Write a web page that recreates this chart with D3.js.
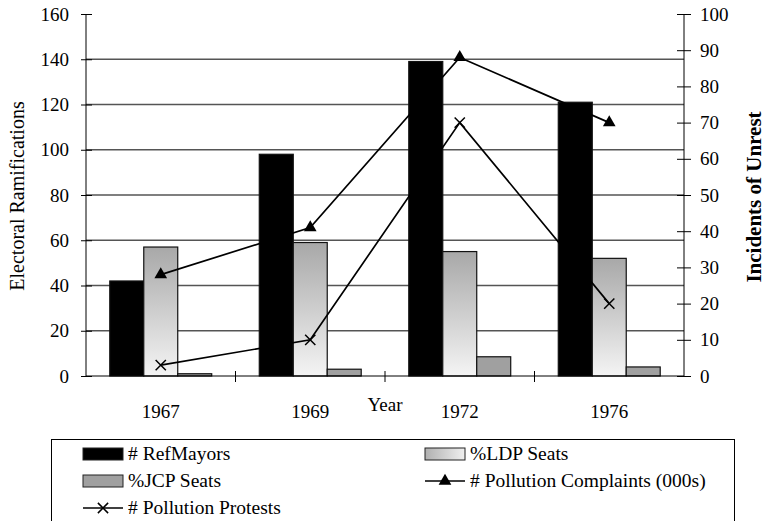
<!DOCTYPE html>
<html>
<head>
<meta charset="utf-8">
<script src="https://cdn.jsdelivr.net/npm/d3@7"></script>
<style>
  body { margin: 0; background: #fff; }
  text { font-family: "Liberation Serif", "Times New Roman", serif; fill: #000; }
</style>
</head>
<body>
<svg id="chart" width="766" height="521"></svg>
<script>
// chart data
let years = ["1967", "1969", "1972", "1976"];
let refMayors = [42, 98, 139, 121];
let ldpSeats = [57, 59, 55, 52];
let jcpSeats = [1, 3, 8.5, 4];
let complaints = [28, 41, 88, 70];
let protests = [3, 10, 70, 20];
let leftTicks = [0, 20, 40, 60, 80, 100, 120, 140, 160];
let rightTicks = [0, 10, 20, 30, 40, 50, 60, 70, 80, 90, 100];

let svg = d3.select("#chart");

let defs = svg.append("defs");
let grad = defs.append("linearGradient").attr("id", "ldpGrad")
  .attr("x1", 0).attr("y1", 0).attr("x2", 0).attr("y2", 1);
grad.append("stop").attr("offset", "0%").attr("stop-color", "#a8a8a8");
grad.append("stop").attr("offset", "100%").attr("stop-color", "#f4f4f4");

// scales
let plotL = 86, plotR = 684, plotT = 14, plotB = 376;
let x = d3.scaleBand().domain(years).range([plotL, plotR]);
let series = ["ref", "ldp", "jcp"];
let xs = d3.scaleBand().domain(series).range([0, x.bandwidth()]).paddingOuter(0.7);
let yL = d3.scaleLinear().domain([0, 160]).range([plotB, plotT]);
let yR = d3.scaleLinear().domain([0, 100]).range([plotB, plotT]);

// gridlines
svg.append("g").selectAll("line")
  .data(leftTicks.filter(d => d > 0 && d < 160))
  .join("line")
  .attr("x1", plotL).attr("x2", plotR)
  .attr("y1", d => yL(d)).attr("y2", d => yL(d))
  .attr("stroke", "#555").attr("stroke-width", 1.3);

// bars
let rows = years.map((y, i) => ({ year: y, ref: refMayors[i], ldp: ldpSeats[i], jcp: jcpSeats[i] }));
let fills = { ref: "#000", ldp: "url(#ldpGrad)", jcp: "#a0a0a0" };
let groups = svg.append("g").selectAll("g").data(rows).join("g")
  .attr("transform", d => "translate(" + x(d.year) + ",0)");
groups.selectAll("rect")
  .data(d => series.map(k => ({ key: k, value: d[k] })))
  .join("rect")
  .attr("x", d => xs(d.key))
  .attr("width", xs.bandwidth())
  .attr("y", d => yL(d.value))
  .attr("height", d => plotB - yL(d.value))
  .attr("fill", d => fills[d.key])
  .attr("stroke", "#111").attr("stroke-width", 1.2);

// left axis
let axL = svg.append("g").attr("transform", "translate(" + plotL + ",0)")
  .call(d3.axisLeft(yL).tickValues(leftTicks).tickSize(5).tickPadding(12));
axL.select(".domain").attr("d", "M0," + plotT + "V" + plotB);
axL.selectAll(".tick line").attr("x2", -5).attr("x1", 6);
axL.selectAll(".tick text").style("font-size", "19px");

// right axis
let axR = svg.append("g").attr("transform", "translate(" + plotR + ",0)")
  .call(d3.axisRight(yR).tickValues(rightTicks).tickSize(7).tickPadding(9));
axR.select(".domain").attr("d", "M0," + plotT + "V" + plotB);
axR.selectAll(".tick line").attr("x1", -7);
axR.selectAll(".tick text").style("font-size", "19px");

// x axis
let axX = svg.append("g").attr("transform", "translate(0," + plotB + ")");
axX.append("line").attr("x1", plotL).attr("x2", plotR).attr("stroke", "#000");
axX.selectAll(".sep").data(years.slice(1)).join("line").attr("class", "sep")
  .attr("x1", d => x(d)).attr("x2", d => x(d))
  .attr("y1", -5).attr("y2", 6).attr("stroke", "#000");
axX.selectAll(".lbl").data(years).join("text").attr("class", "lbl")
  .attr("x", d => x(d) + x.bandwidth() / 2).attr("y", 42)
  .attr("text-anchor", "middle").style("font-size", "19px").text(d => d);

// axis titles
svg.append("text").attr("transform", "translate(24,196) rotate(-90)")
  .attr("text-anchor", "middle").style("font-size", "20px").text("Electoral Ramifications");
svg.append("text").attr("transform", "translate(761,197) rotate(-90)")
  .attr("text-anchor", "middle").style("font-size", "21px").style("font-weight", "bold")
  .text("Incidents of Unrest");
svg.append("text").attr("x", 385).attr("y", 411).attr("text-anchor", "middle")
  .style("font-size", "19px").text("Year");

// lines
let cx = d => x(d) + x.bandwidth() / 2;
let line = d3.line().x(d => cx(d.year)).y(d => yR(d.v));
let compData = years.map((y, i) => ({ year: y, v: complaints[i] }));
let protData = years.map((y, i) => ({ year: y, v: protests[i] }));
svg.append("path").datum(compData).attr("d", line)
  .attr("fill", "none").attr("stroke", "#000").attr("stroke-width", 1.7);
svg.append("path").datum(protData).attr("d", line)
  .attr("fill", "none").attr("stroke", "#000").attr("stroke-width", 1.7);

let tri = d3.symbol().type(d3.symbolTriangle).size(70);
svg.append("g").selectAll("path").data(compData).join("path")
  .attr("transform", d => "translate(" + cx(d.year) + "," + yR(d.v) + ")")
  .attr("d", tri).attr("fill", "#000");
let cross = d3.symbol().type(d3.symbolX).size(70);
svg.append("g").selectAll("path").data(protData).join("path")
  .attr("transform", d => "translate(" + cx(d.year) + "," + yR(d.v) + ")")
  .attr("d", cross).attr("fill", "none").attr("stroke", "#000").attr("stroke-width", 1.5);

// legend
let lg = svg.append("g");
lg.append("rect").attr("x", 51.5).attr("y", 439.5).attr("width", 683).attr("height", 100)
  .attr("fill", "none").attr("stroke", "#000");
let g2 = defs.append("linearGradient").attr("id", "ldpGrad2");
g2.append("stop").attr("offset", "0%").attr("stop-color", "#b0b0b0");
g2.append("stop").attr("offset", "100%").attr("stop-color", "#f0f0f0");
let legendItems = [
  { label: "# RefMayors", kind: "box", fill: fills.ref, col: 0, row: 0 },
  { label: "%LDP Seats", kind: "box", fill: "url(#ldpGrad2)", col: 1, row: 0 },
  { label: "%JCP Seats", kind: "box", fill: fills.jcp, col: 0, row: 1 },
  { label: "# Pollution Complaints (000s)", kind: "tri", col: 1, row: 1 },
  { label: "# Pollution Protests", kind: "x", col: 0, row: 2 }
];
let colX = [83, 425], rowY = [454, 481, 508];
legendItems.forEach(it => {
  let x0 = colX[it.col], y0 = rowY[it.row];
  if (it.kind === "box") {
    lg.append("rect").attr("x", x0).attr("y", y0 - 6).attr("width", 40).attr("height", 12)
      .attr("fill", it.fill).attr("stroke", "#222");
  } else {
    lg.append("line").attr("x1", x0).attr("x2", x0 + 40).attr("y1", y0).attr("y2", y0)
      .attr("stroke", "#000").attr("stroke-width", 1.7);
    let sym = it.kind === "tri" ? tri : cross;
    let p = lg.append("path").attr("transform", "translate(" + (x0 + 20) + "," + y0 + ")").attr("d", sym);
    if (it.kind === "tri") p.attr("fill", "#000");
    else p.attr("fill", "none").attr("stroke", "#000").attr("stroke-width", 1.5);
  }
  lg.append("text").attr("x", x0 + 45).attr("y", y0 + 6).style("font-size", "19.5px").text(it.label);
});
</script>
</body>
</html>
